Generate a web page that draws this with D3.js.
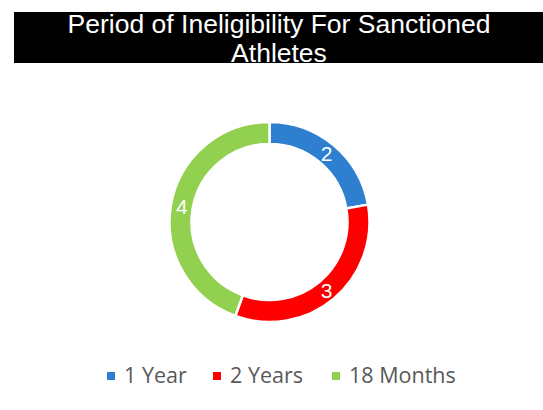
<!DOCTYPE html>
<html>
<head>
<meta charset="utf-8">
<script src="https://cdn.jsdelivr.net/npm/d3@7"></script>
<style>
  body { margin: 0; background: #fff; }
</style>
</head>
<body>
<svg width="543" height="410"></svg>
<script>
const categories = ["1 Year", "2 Years", "18 Months"];
const values = [2, 3, 4];
const colors = ["#2E7FD0", "#FF0000", "#92D050"];
const titleLines = ["Period of Ineligibility For Sanctioned", "Athletes"];

const svg = d3.select("svg");
const width = +svg.attr("width");

// title band
svg.append("rect")
    .attr("x", 14).attr("y", 12)
    .attr("width", width - 14).attr("height", 51)
    .attr("fill", "#000");

svg.append("g").selectAll("text")
    .data(titleLines)
    .join("text")
    .attr("x", 279)
    .attr("y", (d, i) => 33 + i * 29)
    .attr("text-anchor", "middle")
    .attr("font-family", "Liberation Sans, Arial, sans-serif")
    .attr("font-size", 26.5)
    .attr("fill", "#fff")
    .text(d => d);

// donut
const data = categories.map((c, i) => ({name: c, value: values[i], color: colors[i]}));
const pie = d3.pie().value(d => d.value).sort(null);
const arcs = pie(data);
const outerR = 100, innerR = 78;
const arc = d3.arc().innerRadius(innerR).outerRadius(outerR);
const labelArc = d3.arc().innerRadius(89).outerRadius(89);

const g = svg.append("g").attr("transform", "translate(269.5,222)");

g.selectAll("path")
    .data(arcs)
    .join("path")
    .attr("d", arc)
    .attr("fill", d => d.data.color)
    .attr("stroke", "#fff")
    .attr("stroke-width", 2.5);

g.selectAll("text")
    .data(arcs)
    .join("text")
    .attr("transform", d => `translate(${labelArc.centroid(d)})`)
    .attr("text-anchor", "middle")
    .attr("dy", "0.35em")
    .attr("font-family", "Liberation Sans, Arial, sans-serif")
    .attr("font-size", 21)
    .attr("fill", "#fff")
    .text(d => d.data.value);

// legend
const legendX = [107, 213, 332];
const legend = svg.append("g").selectAll("g")
    .data(data)
    .join("g")
    .attr("transform", (d, i) => `translate(${legendX[i]},372)`);

legend.append("rect")
    .attr("width", 8).attr("height", 8)
    .attr("fill", d => d.color);

legend.append("text")
    .attr("x", 17)
    .attr("y", 11)
    .attr("font-family", "Open Sans, Liberation Sans, sans-serif")
    .attr("font-size", 21.5)
    .attr("fill", "#595959")
    .text(d => d.name);
</script>
</body>
</html>
